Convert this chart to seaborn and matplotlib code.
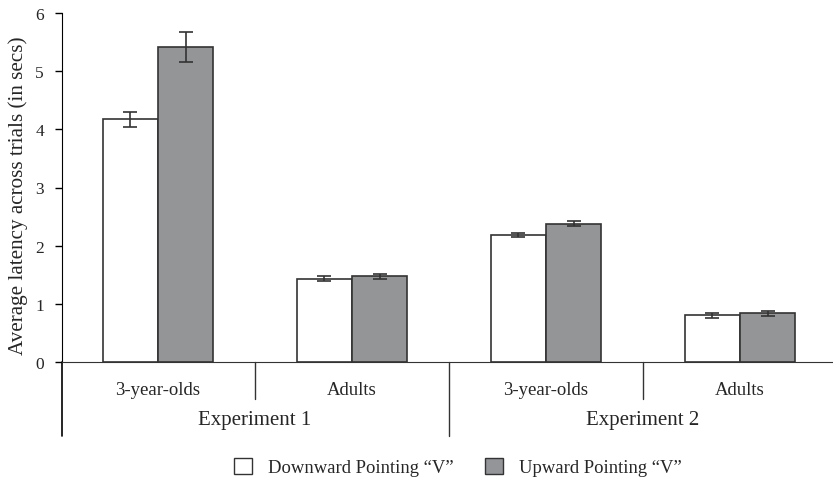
import numpy as np
import pandas as pd
import seaborn as sns
import matplotlib.pyplot as plt
from matplotlib.patches import Patch

# data
groups = ['Exp1 3yo', 'Exp1 Adults', 'Exp2 3yo', 'Exp2 Adults']
group_labels = ['3-year-olds', 'Adults', '3-year-olds', 'Adults']
experiments = ['Experiment 1', 'Experiment 2']
conditions = ['Downward Pointing \u201cV\u201d', 'Upward Pointing \u201cV\u201d']
downward = [4.17, 1.43, 2.18, 0.80]
upward = [5.42, 1.47, 2.38, 0.84]
downward_err = [0.135, 0.04, 0.035, 0.04]
upward_err = [0.26, 0.045, 0.04, 0.045]

colors = ['white', '#939598']
edge = '#333333'

df = pd.DataFrame({
    'group': groups * 2,
    'condition': [conditions[0]] * 4 + [conditions[1]] * 4,
    'latency': downward + upward,
    'err': downward_err + upward_err,
})

sns.set_style('ticks')
plt.rcParams['font.family'] = ['Liberation Serif', 'DejaVu Serif']

fig = plt.figure(figsize=(8.33, 4.85), dpi=100)
ax = fig.add_axes([62 / 833, 1 - 363 / 485, 1 - 62 / 833, (363 - 14) / 485])

sns.barplot(data=df, x='group', y='latency', hue='condition', order=groups,
            hue_order=conditions, palette=colors, errorbar=None, width=0.57,
            edgecolor=edge, linewidth=1.2, legend=False, ax=ax)

# error bars
for cont, errs in zip(ax.containers, [downward_err, upward_err]):
    for bar, e in zip(cont, errs):
        xc = bar.get_x() + bar.get_width() / 2
        ax.errorbar(xc, bar.get_height(), yerr=e, fmt='none', ecolor=edge,
                    elinewidth=1.2, capsize=5, capthick=1.2)

ax.set_ylim(0, 6)
ax.set_xlim(-0.495, 3.48)
ax.set_yticks(range(0, 7))
ax.tick_params(axis='y', labelsize=12.5, length=5, width=1, color='black', pad=8)
ax.tick_params(axis='x', length=0, labelsize=13.5, pad=14)
ax.set_xticks(range(4))
ax.set_xticklabels(group_labels)
ax.set_xlabel('')
ax.set_ylabel('Average latency across trials (in secs)', fontsize=15.2, va='center')
ax.yaxis.set_label_coords((18 - 62) / 771, (363 - 195.5) / 349)
sns.despine(ax=ax, top=True, right=True)
ax.spines['left'].set_color('black')
ax.spines['bottom'].set_color('#333333')

# extend left spine below the axis, group dividers
trans = ax.get_xaxis_transform()
ax.plot([-0.495, -0.495], [0, -74 / 349], transform=trans, color='black',
        lw=1.2, clip_on=False)
for xd, depth in [(0.5, 37), (1.5, 74), (2.5, 37)]:
    ax.plot([xd, xd], [0, -depth / 349], transform=trans, color='#333333',
            lw=1.0, clip_on=False)

for i, name in enumerate(experiments):
    ax.text(0.5 + 2 * i, -58 / 349, name, transform=trans, ha='center',
            va='center', fontsize=15)

handles = [Patch(facecolor=c, edgecolor=edge, linewidth=1) for c in colors]
fig.legend(handles, conditions, loc='center', bbox_to_anchor=(458 / 833, 1 - 468 / 485),
           ncol=2, frameon=False, fontsize=13.4, handlelength=0.95, handleheight=0.95,
           columnspacing=1.7, handletextpad=0.85)

fig.savefig('out.png', dpi=100)
